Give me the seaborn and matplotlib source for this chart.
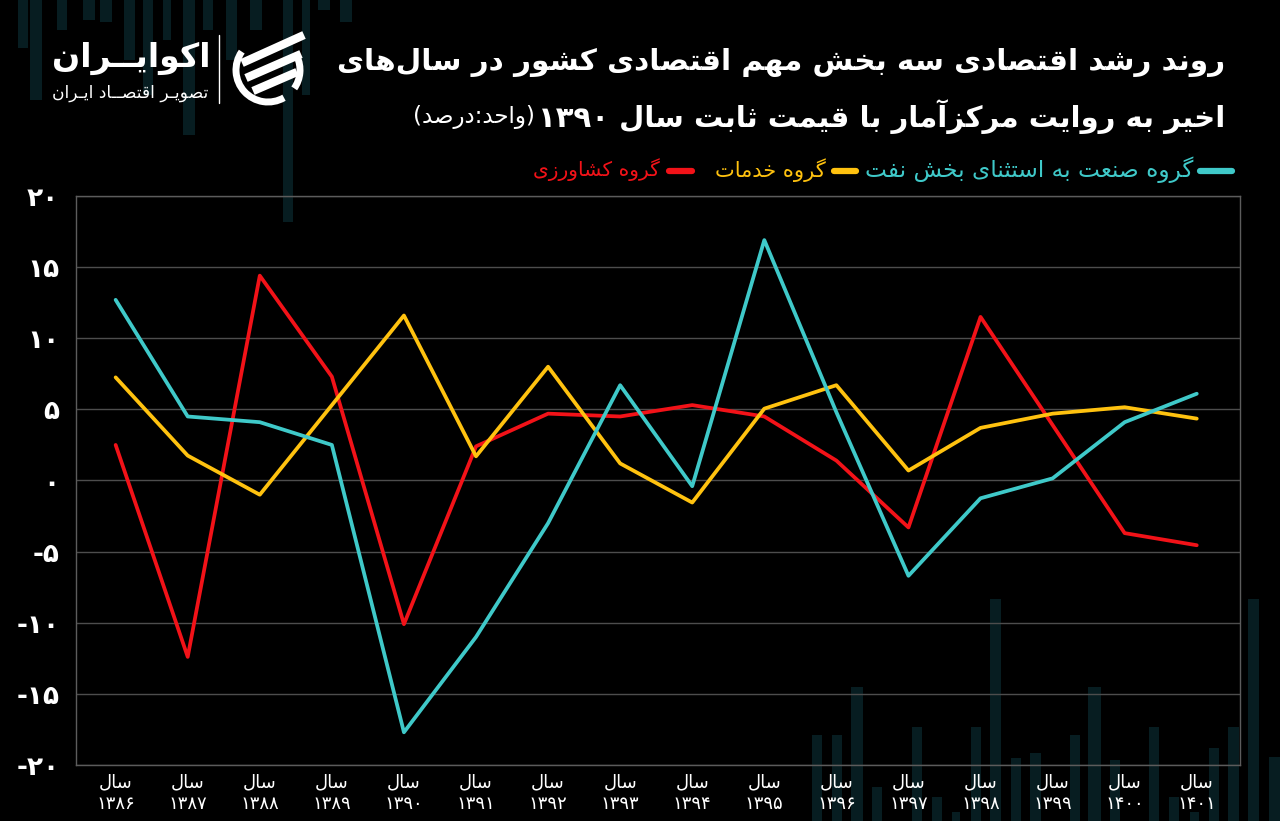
import re
import numpy as np
import pandas as pd
import matplotlib
matplotlib.use("Agg")
import matplotlib.pyplot as plt
import seaborn as sns
from matplotlib.patches import Rectangle, Arc
from matplotlib.lines import Line2D

# ---------------- data ----------------
years = [1386, 1387, 1388, 1389, 1390, 1391, 1392, 1393,
         1394, 1395, 1396, 1397, 1398, 1399, 1400, 1401]
industry = [12.7, 4.5, 4.1, 2.5, -17.7, -11.0, -3.0, 6.7,
            -0.4, 16.9, 4.8, -6.7, -1.25, 0.15, 4.1, 6.1]
services = [7.25, 1.75, -1.0, 5.3, 11.6, 1.7, 8.0, 1.2,
            -1.55, 5.05, 6.7, 0.7, 3.7, 4.7, 5.15, 4.35]
agriculture = [2.5, -12.4, 14.4, 7.3, -10.1, 2.4, 4.7, 4.5,
               5.3, 4.5, 1.4, -3.3, 11.5, 3.9, -3.7, -4.55]
series_names = ["گروه صنعت به استثنای بخش نفت", "گروه خدمات", "گروه کشاورزی"]
series_colors = ["#3fc9c9", "#ffc20f", "#f21218"]
y_ticks = [-20, -15, -10, -5, 0, 5, 10, 15, 20]
year_prefix = "سال"
title1 = "روند رشد اقتصادی سه بخش مهم اقتصادی کشور در سال‌های"
title2 = "اخیر به روایت مرکزآمار با قیمت ثابت سال ۱۳۹۰"
unit_text = "(واحد:درصد)"
brand = "اکوایــران"
brand_sub = "تصویـر اقتصــاد ایـران"

# ---------------- simple Arabic/Persian shaping ----------------
FORMS = {
    "\u0627": ("\uFE8D", "\uFE8E", None, None),
    "\u0622": ("\uFE81", "\uFE82", None, None),
    "\u0628": ("\uFE8F", "\uFE90", "\uFE91", "\uFE92"),
    "\u067E": ("\uFB56", "\uFB57", "\uFB58", "\uFB59"),
    "\u062A": ("\uFE95", "\uFE96", "\uFE97", "\uFE98"),
    "\u062B": ("\uFE99", "\uFE9A", "\uFE9B", "\uFE9C"),
    "\u062C": ("\uFE9D", "\uFE9E", "\uFE9F", "\uFEA0"),
    "\u0686": ("\uFB7A", "\uFB7B", "\uFB7C", "\uFB7D"),
    "\u062D": ("\uFEA1", "\uFEA2", "\uFEA3", "\uFEA4"),
    "\u062E": ("\uFEA5", "\uFEA6", "\uFEA7", "\uFEA8"),
    "\u062F": ("\uFEA9", "\uFEAA", None, None),
    "\u0630": ("\uFEAB", "\uFEAC", None, None),
    "\u0631": ("\uFEAD", "\uFEAE", None, None),
    "\u0632": ("\uFEAF", "\uFEB0", None, None),
    "\u0698": ("\uFB8A", "\uFB8B", None, None),
    "\u0633": ("\uFEB1", "\uFEB2", "\uFEB3", "\uFEB4"),
    "\u0634": ("\uFEB5", "\uFEB6", "\uFEB7", "\uFEB8"),
    "\u0635": ("\uFEB9", "\uFEBA", "\uFEBB", "\uFEBC"),
    "\u0636": ("\uFEBD", "\uFEBE", "\uFEBF", "\uFEC0"),
    "\u0637": ("\uFEC1", "\uFEC2", "\uFEC3", "\uFEC4"),
    "\u0638": ("\uFEC5", "\uFEC6", "\uFEC7", "\uFEC8"),
    "\u0639": ("\uFEC9", "\uFECA", "\uFECB", "\uFECC"),
    "\u063A": ("\uFECD", "\uFECE", "\uFECF", "\uFED0"),
    "\u0641": ("\uFED1", "\uFED2", "\uFED3", "\uFED4"),
    "\u0642": ("\uFED5", "\uFED6", "\uFED7", "\uFED8"),
    "\u06A9": ("\uFB8E", "\uFB8F", "\uFB90", "\uFB91"),
    "\u06AF": ("\uFB92", "\uFB93", "\uFB94", "\uFB95"),
    "\u0644": ("\uFEDD", "\uFEDE", "\uFEDF", "\uFEE0"),
    "\u0645": ("\uFEE1", "\uFEE2", "\uFEE3", "\uFEE4"),
    "\u0646": ("\uFEE5", "\uFEE6", "\uFEE7", "\uFEE8"),
    "\u0648": ("\uFEED", "\uFEEE", None, None),
    "\u0647": ("\uFEE9", "\uFEEA", "\uFEEB", "\uFEEC"),
    "\u06CC": ("\uFBFC", "\uFBFD", "\uFBFE", "\uFBFF"),
}
TATWEEL = "\u0640"


def _joins_next(c):
    if c == TATWEEL:
        return True
    f = FORMS.get(c)
    return f is not None and f[2] is not None


def _joins_prev(c):
    return c == TATWEEL or c in FORMS


def shape(s):
    out = []
    for i, c in enumerate(s):
        if c not in FORMS:
            out.append(c)
            continue
        prev = s[i - 1] if i > 0 else None
        nxt = s[i + 1] if i + 1 < len(s) else None
        jp = prev is not None and _joins_next(prev)
        jn = nxt is not None and _joins_prev(nxt) and FORMS[c][2] is not None
        iso, fin, ini, med = FORMS[c]
        if jp and jn:
            out.append(med)
        elif jp:
            out.append(fin)
        elif jn:
            out.append(ini)
        else:
            out.append(iso)
    return "".join(out).replace("\u200c", "")


def rtl(s):
    t = shape(s)[::-1]
    t = re.sub(r"[0-9\u06F0-\u06F9]+", lambda m: m.group(0)[::-1], t)
    return t.translate(str.maketrans("()", ")("))


def fa(n):
    s = str(n)
    return s.translate(str.maketrans("0123456789", "۰۱۲۳۴۵۶۷۸۹"))


# ---------------- figure ----------------
sns.set_theme(style="dark")
plt.rcParams["font.family"] = ["DejaVu Sans"]

W, H = 1280, 821
fig = plt.figure(figsize=(W / 100, H / 100), dpi=100, facecolor="black")

bg = fig.add_axes([0, 0, 1, 1], zorder=0)
bg.set_xlim(0, W)
bg.set_ylim(H, 0)
bg.axis("off")
bg.patch.set_visible(False)

# decorative background bars
bar_col = "#071d21"
top_bars = [(18, 28, 48), (30, 42, 100), (57, 67, 30), (83, 95, 20), (100, 112, 22),
            (124, 135, 60), (143, 153, 95), (163, 171, 40), (183, 195, 135),
            (203, 213, 30), (226, 237, 60), (250, 262, 30), (283, 293, 222),
            (302, 310, 95), (318, 330, 10), (340, 352, 22)]
for x0, x1, yb in top_bars:
    bg.add_patch(Rectangle((x0, 0), x1 - x0, yb, color=bar_col, lw=0))
bottom_bars = [(812, 822, 735), (832, 842, 735), (851, 863, 687), (872, 882, 787),
               (912, 922, 727), (932, 942, 797), (952, 960, 812), (971, 981, 727),
               (990, 1001, 599), (1011, 1021, 758), (1030, 1041, 753), (1070, 1080, 735),
               (1088, 1101, 687), (1110, 1120, 760), (1149, 1159, 727), (1169, 1179, 797),
               (1190, 1199, 812), (1209, 1219, 748), (1228, 1239, 727), (1248, 1259, 599),
               (1269, 1280, 757)]
for x0, x1, yt in bottom_bars:
    bg.add_patch(Rectangle((x0, yt), x1 - x0, H - yt, color=bar_col, lw=0))

# ---------------- main axes ----------------
ax = fig.add_axes([76 / W, 1 - 765 / H, (1240 - 76) / W, (765 - 196) / H], zorder=2)
ax.patch.set_alpha(0)

df = pd.DataFrame({
    "year": years * 3,
    "value": industry + services + agriculture,
    "series": [series_names[0]] * len(years) + [series_names[1]] * len(years)
              + [series_names[2]] * len(years),
})
palette = dict(zip(series_names, series_colors))
sns.lineplot(data=df, x="year", y="value", hue="series",
             hue_order=[series_names[2], series_names[1], series_names[0]],
             palette=palette, linewidth=2.7, legend=False, ax=ax,
             estimator=None, sort=False)

ax.set_xlim(years[0] - 0.55, years[-1] + 0.6)
ax.set_ylim(-20, 20)
ax.set_yticks(y_ticks)
ax.set_yticklabels([("-" + fa(-v)) if v < 0 else fa(v) for v in y_ticks],
                   color="white", fontsize=19, fontweight="bold")
ax.set_xticks(years)
ax.set_xticklabels([rtl(year_prefix) + "\n" + fa(y) for y in years],
                   color="white", fontsize=13, linespacing=1.25)
ax.tick_params(axis="both", length=0)
ax.tick_params(axis="y", pad=12)
ax.tick_params(axis="x", pad=6)
ax.set_xlabel("")
ax.set_ylabel("")
ax.grid(False)
ax.yaxis.grid(True, color="#4d4d4d", lw=1)
for sp in ax.spines.values():
    sp.set_visible(True)
    sp.set_color("#5c5c5c")
    sp.set_linewidth(1)

renderer = fig.canvas.get_renderer()


def fit(txt, target_w):
    w = txt.get_window_extent(renderer).width
    txt.set_fontsize(txt.get_fontsize() * target_w / w)


# ---------------- titles ----------------
t1 = bg.text(1225, 62, rtl(title1), ha="right", va="center", color="white",
             fontsize=22, fontweight="bold")
fit(t1, 885)
t2 = bg.text(1225, 117, rtl(title2), ha="right", va="center", color="white",
             fontsize=22, fontweight="bold")
fit(t2, 685)
t3 = bg.text(535, 117, rtl(unit_text), ha="right", va="center", color="white",
             fontsize=14)
fit(t3, 123)

# ---------------- legend ----------------
leg_y = 171
leg_items = [  # (marker x0, x1, text right, text width)
    (1200, 1232, 1193, 333),
    (834, 856, 826, 112),
    (669, 692, 660, 128),
]
for (mx0, mx1, tr, tw), name, col in zip(leg_items, series_names, series_colors):
    bg.add_line(Line2D([mx0, mx1], [leg_y, leg_y], color=col, lw=4.5,
                       solid_capstyle="round"))
    tt = bg.text(tr, leg_y - 1, rtl(name), ha="right", va="center", color=col,
                 fontsize=14)
    fit(tt, tw)

# ---------------- logo ----------------
b1 = bg.text(210, 58, rtl(brand), ha="right", va="center", color="white",
             fontsize=28, fontweight="bold")
fit(b1, 158)
b2 = bg.text(208, 93, rtl(brand_sub), ha="right", va="center", color="white",
             fontsize=12)
fit(b2, 156)
bg.add_line(Line2D([219, 219], [35, 103], color="white", lw=1))
cx, cy, r = 268, 70, 32
bg.add_patch(Arc((cx, cy), 2 * r, 2 * r, theta1=60, theta2=215, color="white", lw=5))
bg.add_patch(Arc((cx, cy), 2 * r, 2 * r, theta1=-25, theta2=35, color="white", lw=5))
for (x0, y0), (x1, y1) in [((242, 63), (304, 35)), ((246, 78), (301, 54)),
                           ((253, 91), (297, 72))]:
    bg.add_line(Line2D([x0, x1], [y0, y1], color="white", lw=6,
                       solid_capstyle="butt"))

fig.savefig("out.png", dpi=100, facecolor="black")
